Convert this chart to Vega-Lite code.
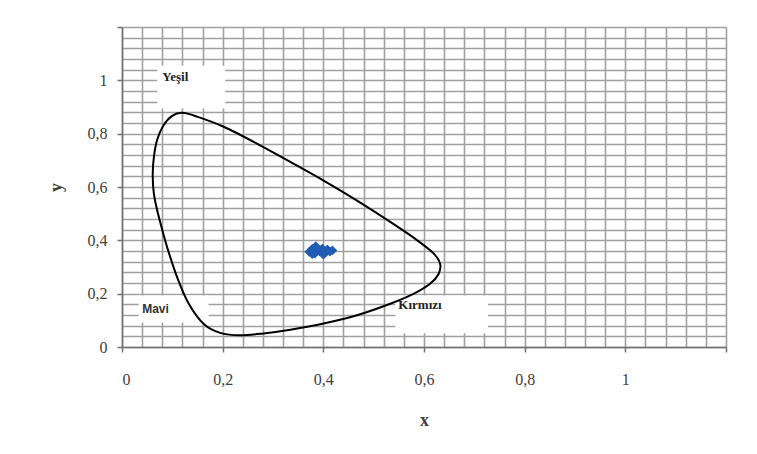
{
  "$schema": "https://vega.github.io/schema/vega-lite/v6.json",
  "autosize": "none",
  "width": 604,
  "height": 320,
  "padding": {"left": 122, "top": 27, "right": 31, "bottom": 107},
  "background": "white",
  "config": {
    "view": {"stroke": null},
    "axis": {
      "grid": true,
      "gridColor": "#a0a0a0",
      "gridWidth": 1.6,
      "domainColor": "#707070",
      "domainWidth": 1.5,
      "tickColor": "#707070",
      "tickWidth": 1.5,
      "tickSize": 5,
      "tickOpacity": {"condition": {"test": "abs(datum.value*5 - round(datum.value*5)) < 0.001", "value": 1}, "value": 0},
      "labelExpr": "abs(datum.value*5 - round(datum.value*5)) < 0.001 && datum.value < 1.1 ? replace(format(datum.value, '~g'), '.', ',') : ''",
      "labelOverlap": false,
      "labelBound": false,
      "labelFont": "Liberation Serif",
      "labelFontSize": 16,
      "labelColor": "#404040",
      "titleFont": "Liberation Serif",
      "titleFontSize": 18,
      "titleFontWeight": "bold",
      "titleColor": "#404040"
    }
  },
  "datasets": {
    "curve": [
      {"o": 1, "x": 0.1195, "y": 0.878},
      {"o": 2, "x": 0.149, "y": 0.864},
      {"o": 3, "x": 0.202, "y": 0.826},
      {"o": 4, "x": 0.268, "y": 0.763},
      {"o": 5, "x": 0.3345, "y": 0.694},
      {"o": 6, "x": 0.4006, "y": 0.624},
      {"o": 7, "x": 0.467, "y": 0.549},
      {"o": 8, "x": 0.533, "y": 0.469},
      {"o": 9, "x": 0.586, "y": 0.401},
      {"o": 10, "x": 0.619, "y": 0.351},
      {"o": 11, "x": 0.632, "y": 0.312},
      {"o": 12, "x": 0.629, "y": 0.274},
      {"o": 13, "x": 0.612, "y": 0.237},
      {"o": 14, "x": 0.579, "y": 0.199},
      {"o": 15, "x": 0.533, "y": 0.162},
      {"o": 16, "x": 0.467, "y": 0.119},
      {"o": 17, "x": 0.4006, "y": 0.088},
      {"o": 18, "x": 0.3345, "y": 0.065},
      {"o": 19, "x": 0.281, "y": 0.051},
      {"o": 20, "x": 0.235, "y": 0.044},
      {"o": 21, "x": 0.195, "y": 0.053},
      {"o": 22, "x": 0.163, "y": 0.085},
      {"o": 23, "x": 0.1327, "y": 0.162},
      {"o": 24, "x": 0.1095, "y": 0.262},
      {"o": 25, "x": 0.0897, "y": 0.374},
      {"o": 26, "x": 0.077, "y": 0.46},
      {"o": 27, "x": 0.069, "y": 0.52},
      {"o": 28, "x": 0.063, "y": 0.58},
      {"o": 29, "x": 0.061, "y": 0.649},
      {"o": 30, "x": 0.0635, "y": 0.715},
      {"o": 31, "x": 0.07, "y": 0.778},
      {"o": 32, "x": 0.082, "y": 0.830},
      {"o": 33, "x": 0.099, "y": 0.866}
    ],
    "points": [
      {"x": 0.372, "y": 0.357},
      {"x": 0.378, "y": 0.368},
      {"x": 0.383, "y": 0.350},
      {"x": 0.388, "y": 0.370},
      {"x": 0.393, "y": 0.358},
      {"x": 0.398, "y": 0.369},
      {"x": 0.403, "y": 0.352},
      {"x": 0.408, "y": 0.366},
      {"x": 0.413, "y": 0.358},
      {"x": 0.418, "y": 0.362},
      {"x": 0.385, "y": 0.378},
      {"x": 0.4, "y": 0.346},
      {"x": 0.378, "y": 0.348}
    ],
    "boxes": [
      {"label": "Yeşil", "x": 0.07, "x2": 0.205, "y": 0.894, "y2": 1.055},
      {"label": "Mavi", "x": 0.033, "x2": 0.172, "y": 0.092, "y2": 0.193},
      {"label": "Kırmızı", "x": 0.543, "x2": 0.727, "y": 0.052, "y2": 0.193}
    ],
    "labels": [
      {"label": "Yeşil", "x": 0.08, "y": 1.014, "kind": "serif"},
      {"label": "Mavi", "x": 0.04, "y": 0.141, "kind": "sans"},
      {"label": "Kırmızı", "x": 0.549, "y": 0.159, "kind": "serif"}
    ],
    "marker": [
      {"x": 1, "y": 1}
    ]
  },
  "encoding": {
    "x": {"field": "x", "type": "quantitative", "title": "x",
          "scale": {"domain": [0, 1.2], "nice": false, "zero": false},
          "axis": {"values": [0,0.04,0.08,0.12,0.16,0.2,0.24,0.28,0.32,0.36,0.4,0.44,0.48,0.52,0.56,0.6,0.64,0.68,0.72,0.76,0.8,0.84,0.88,0.92,0.96,1,1.04,1.08,1.12,1.16,1.2],
                   "labelPadding": 19, "titlePadding": 24}},
    "y": {"field": "y", "type": "quantitative", "title": "y",
          "scale": {"domain": [0, 1.2], "nice": false, "zero": false},
          "axis": {"values": [0,0.04,0.08,0.12,0.16,0.2,0.24,0.28,0.32,0.36,0.4,0.44,0.48,0.52,0.56,0.6,0.64,0.68,0.72,0.76,0.8,0.84,0.88,0.92,0.96,1,1.04,1.08,1.12,1.16,1.2],
                   "labelPadding": 10, "titlePadding": 22}}
  },
  "layer": [
    {
      "data": {"name": "boxes"},
      "mark": {"type": "rect", "fill": "white", "stroke": null},
      "encoding": {
        "x2": {"field": "x2"},
        "y2": {"field": "y2"}
      }
    },
    {
      "data": {"name": "curve"},
      "mark": {"type": "line", "color": "black", "strokeWidth": 2, "interpolate": "cardinal-closed"},
      "encoding": {
        "order": {"field": "o", "type": "quantitative"}
      }
    },
    {
      "data": {"name": "points"},
      "mark": {"type": "point", "shape": "diamond", "filled": true, "color": "#1f5cb4", "size": 95, "opacity": 1}
    },
    {
      "data": {"name": "marker"},
      "mark": {"type": "point", "shape": "M-1,0L1,0M0,-1L0,1", "filled": false, "color": "#b0b0b0", "strokeWidth": 1, "size": 60, "opacity": 1}
    },
    {
      "data": {"name": "labels"},
      "transform": [{"filter": "datum.kind == 'serif'"}],
      "mark": {"type": "text", "align": "left", "baseline": "middle", "font": "Liberation Serif", "fontWeight": "bold", "fontSize": 13, "color": "#222222"},
      "encoding": {
        "text": {"field": "label"}
      }
    },
    {
      "data": {"name": "labels"},
      "transform": [{"filter": "datum.kind == 'sans'"}],
      "mark": {"type": "text", "align": "left", "baseline": "middle", "font": "Liberation Sans", "fontWeight": "bold", "fontSize": 12, "color": "#333333"},
      "encoding": {
        "text": {"field": "label"}
      }
    }
  ]
}
